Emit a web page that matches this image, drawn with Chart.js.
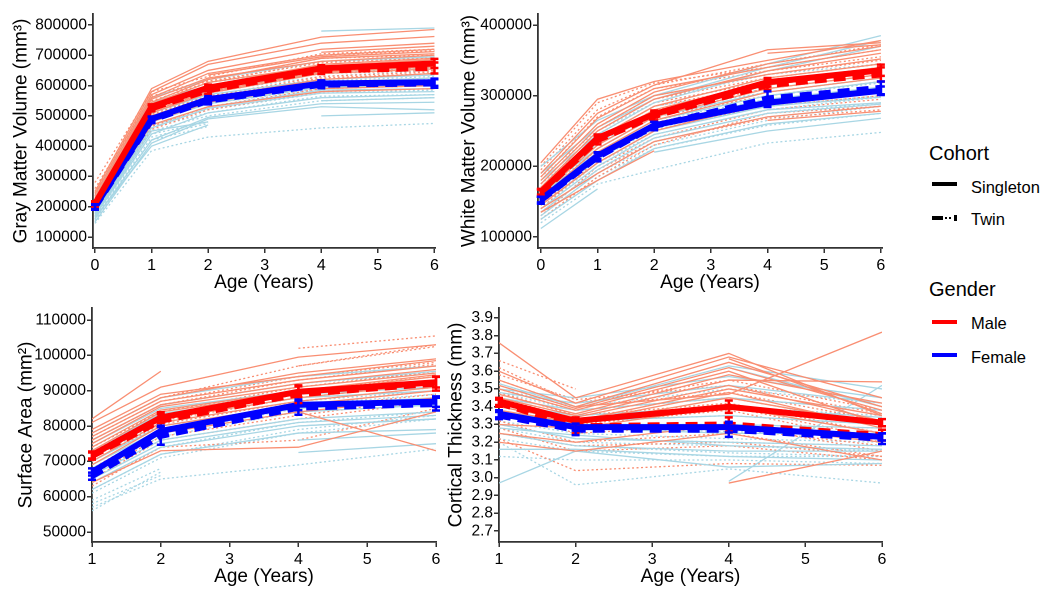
<!DOCTYPE html>
<html><head><meta charset="utf-8">
<script src="https://cdn.jsdelivr.net/npm/chart.js@4/dist/chart.umd.min.js"></script>
<style>
body{margin:0;background:#fff;width:1050px;height:599px;position:relative;overflow:hidden;font-family:"Liberation Sans",Arial,sans-serif}
canvas{position:absolute}
.lg{position:absolute;color:#000;white-space:nowrap;line-height:1.2}
.key{position:absolute;height:4px}
</style></head><body>
<canvas id="c1" width="450" height="295" style="left:0;top:0;width:450px;height:295px"></canvas>
<canvas id="c2" width="460" height="295" style="left:440px;top:0;width:460px;height:295px"></canvas>
<canvas id="c3" width="450" height="304" style="left:0;top:295px;width:450px;height:304px"></canvas>
<canvas id="c4" width="460" height="304" style="left:440px;top:295px;width:460px;height:304px"></canvas>

<div class="lg" style="left:929px;top:141px;font-size:20px">Cohort</div>
<div class="key" style="left:932px;top:182px;width:25px;background:#000"></div>
<div class="lg" style="left:971px;top:178px;font-size:16.5px">Singleton</div>
<div class="key" style="left:932px;top:216px;width:11px;background:#000"></div>
<div class="key" style="left:945px;top:217px;width:2px;height:2px;background:#000"></div>
<div class="key" style="left:949px;top:217px;width:2px;height:2px;background:#000"></div>
<div class="key" style="left:954px;top:215px;width:3px;height:6px;background:#000"></div>
<div class="lg" style="left:971px;top:210px;font-size:16.5px">Twin</div>
<div class="lg" style="left:929px;top:277px;font-size:20px">Gender</div>
<div class="key" style="left:932px;top:320px;width:25px;background:#f00"></div>
<div class="lg" style="left:971px;top:314px;font-size:16.5px">Male</div>
<div class="key" style="left:932px;top:353px;width:25px;background:#00f"></div>
<div class="lg" style="left:971px;top:348px;font-size:16.5px">Female</div>

<script>
// ---------- axes / categories ----------
const agesInfancy = [0, 1, 2, 4, 6];
const agesChildhood = [1, 2, 4, 6];
const xTicksInfancy = [0, 1, 2, 3, 4, 5, 6];
const xTicksChildhood = [1, 2, 3, 4, 5, 6];
const gmTicks = [100000, 200000, 300000, 400000, 500000, 600000, 700000, 800000];
const wmTicks = [100000, 200000, 300000, 400000];
const saTicks = [50000, 60000, 70000, 80000, 90000, 100000, 110000];
const ctTicks = [2.7, 2.8, 2.9, 3.0, 3.1, 3.2, 3.3, 3.4, 3.5, 3.6, 3.7, 3.8, 3.9];

// ---------- Gray matter volume ----------
const gmMaleSingleton = [
 [250000,590000,680000,760000,785000],[240000,580000,670000,740000,762000],[230000,570000,650000,720000,740000],
 [220000,560000,640000,700000,720000],[215000,545000,620000,690000,705000],[210000,535000,600000,670000,690000],
 [200000,520000,590000,650000,670000],[195000,510000,575000,640000,655000],[205000,500000,560000,620000,640000],
 [190000,480000,545000,600000,615000],[null,null,null,590000,600000],[210000,470000,530000,580000,590000],
 [225000,555000,625000,680000,700000],[215000,540000,610000,665000,685000],[205000,525000,595000,655000,675000],
 [200000,515000,580000,645000,662000],[null,null,null,710000,730000],[null,null,635000,695000,712000]];
const gmMaleTwin = [
 [280000,580000,630000,705000,720000],[260000,565000,620000,690000,700000],[245000,550000,610000,680000,690000],
 [235000,535000,600000,660000,680000],[220000,525000,585000,650000,660000],[210000,510000,575000,640000,650000],
 [200000,495000,560000,625000,640000],[195000,480000,545000,610000,625000],[185000,465000,530000,590000,600000],
 [190000,455000,520000,580000,590000],[250000,560000,615000,675000,695000],[230000,540000,595000,655000,670000],
 [215000,520000,580000,645000,665000],[205000,505000,565000,630000,645000],[null,null,null,700000,715000]];
const gmFemaleSingleton = [
 [null,null,null,780000,790000],[240000,560000,620000,680000,695000],[220000,530000,590000,640000,655000],
 [210000,510000,570000,620000,635000],[200000,495000,555000,605000,615000],[190000,480000,540000,595000,600000],
 [180000,460000,525000,575000,580000],[170000,440000,510000,560000,570000],[160000,420000,495000,540000,545000],
 [150000,410000,490000,530000,520000],[null,null,null,500000,510000],[165000,400000,470000,null,null],
 [230000,545000,600000,655000,665000],[205000,500000,560000,610000,625000],[195000,490000,550000,600000,608000],
 [185000,470000,530000,585000,590000],[null,null,null,550000,560000],[175000,450000,480000,null,null]];
const gmFemaleTwin = [
 [235000,540000,610000,660000,680000],[215000,515000,580000,630000,650000],[200000,500000,560000,610000,620000],
 [190000,480000,540000,590000,600000],[175000,460000,510000,565000,570000],[165000,440000,480000,null,null],
 [155000,420000,465000,null,null],[145000,385000,430000,460000,475000],[170000,450000,500000,550000,560000],
 [225000,525000,590000,640000,660000],[205000,505000,565000,615000,630000],[195000,490000,550000,600000,612000],
 [180000,470000,520000,575000,585000],[160000,430000,475000,null,null]];
const gmMeanMaleSingleton = [210000,530000,593000,657000,673000];
const gmMeanMaleTwin = [207000,525000,585000,650000,658000];
const gmMeanFemaleSingleton = [200000,490000,555000,607000,611000];
const gmMeanFemaleTwin = [198000,486000,550000,603000,607000];
const gmSeMaleSingleton = [8000,8000,10000,10000,15000];
const gmSeMaleTwin = [8000,10000,12000,12000,18000];
const gmSeFemaleSingleton = [8000,8000,10000,10000,12000];
const gmSeFemaleTwin = [8000,10000,12000,12000,14000];

// ---------- White matter volume ----------
const wmMaleSingleton = [
 [205000,295000,320000,350000,378000],[190000,275000,315000,365000,375000],[180000,260000,305000,345000,370000],
 [170000,250000,295000,335000,360000],[165000,240000,285000,325000,345000],[160000,230000,275000,315000,335000],
 [150000,220000,265000,305000,325000],[145000,205000,250000,290000,310000],[140000,190000,235000,270000,285000],
 [135000,180000,222000,null,null],[null,null,null,265000,278000],
 [185000,268000,310000,340000,365000],[175000,255000,300000,330000,352000],[162000,235000,280000,320000,340000],
 [155000,225000,270000,310000,330000],[null,null,null,360000,372000]];
const wmMaleTwin = [
 [200000,290000,318000,340000,365000],[185000,270000,310000,335000,355000],[175000,255000,300000,330000,350000],
 [165000,245000,290000,320000,340000],[155000,235000,280000,310000,330000],[150000,225000,270000,300000,320000],
 [140000,210000,255000,285000,300000],[130000,200000,240000,280000,295000],[125000,185000,230000,275000,285000],
 [195000,280000,315000,345000,372000],[170000,250000,295000,325000,345000],[160000,240000,285000,315000,335000],
 [145000,215000,262000,292000,305000],[135000,195000,235000,268000,280000]];
const wmFemaleSingleton = [
 [200000,265000,300000,345000,385000],[180000,245000,290000,335000,370000],[170000,230000,275000,315000,335000],
 [160000,220000,265000,300000,320000],[150000,210000,255000,290000,305000],[140000,200000,245000,280000,290000],
 [130000,190000,235000,270000,285000],[125000,180000,225000,260000,275000],[112000,168000,null,null,null],
 [null,null,220000,250000,268000],
 [190000,255000,295000,340000,378000],[165000,225000,270000,305000,325000],[155000,215000,260000,295000,312000],
 [145000,205000,250000,285000,298000],[135000,195000,240000,275000,288000]];
const wmFemaleTwin = [
 [190000,255000,295000,330000,345000],[175000,240000,285000,310000,330000],[160000,225000,270000,300000,318000],
 [150000,215000,260000,290000,305000],[140000,205000,245000,280000,298000],[130000,190000,230000,265000,285000],
 [120000,175000,195000,233000,248000],[135000,195000,240000,275000,290000],
 [185000,250000,290000,320000,340000],[165000,232000,278000,305000,325000],[155000,220000,265000,295000,310000],
 [145000,210000,252000,285000,300000],[125000,185000,225000,258000,275000]];
const wmMeanMaleSingleton = [164000,240000,274000,319000,336000];
const wmMeanMaleTwin = [162000,237000,271000,315000,330000];
const wmMeanFemaleSingleton = [153000,215000,258000,290000,307000];
const wmMeanFemaleTwin = [152000,213000,257000,296000,311000];
const wmSeMaleSingleton = [4000,5000,5000,6000,8000];
const wmSeMaleTwin = [5000,6000,6000,7000,10000];
const wmSeFemaleSingleton = [4000,5000,5000,6000,6000];
const wmSeFemaleTwin = [5000,6000,6000,10000,9000];

// ---------- Surface area ----------
const saMaleSingleton = [
 [82000,95500,null,null],[81000,91000,99500,103000],[79000,89000,94000,98500],[77000,87000,93000,97000],
 [75000,85500,91000,95000],[73000,84000,89500,94000],[71000,82000,88000,92000],[69000,80000,86000,90000],
 [67000,78000,84000,88000],[null,null,84000,73000],[64000,73000,74000,84000],
 [78000,88000,95000,99000],[76000,86000,92000,96000],[74000,84500,90000,94500],[72000,83000,89000,93000],
 [70000,81000,87000,91000]];
const saMaleTwin = [
 [null,null,102000,105500],[78000,88000,97000,103000],[76000,86000,93000,97500],[74000,84000,91000,95500],
 [72000,82000,89000,93000],[70000,80500,87000,91000],[68000,79000,85000,89000],[65000,76000,82000,87000],
 [63000,74000,76000,85000],[null,null,97000,102500],[77000,87000,94000,98000],[73000,83000,90000,94000],
 [71000,81500,88000,92000],[66000,77000,83000,88000]];
const saFemaleSingleton = [
 [78000,88000,94000,97000],[75000,85000,90000,92000],[72000,82000,88000,90000],[70000,80000,86000,88000],
 [68000,78000,84000,86000],[66000,76000,82000,84000],[64000,74000,80000,82000],[62000,72000,78000,79000],
 [null,null,72500,75000],[null,null,76000,78000],
 [76000,86000,92000,95500],[73000,83500,89000,91000],[69000,79000,85000,87000],[65000,75000,81000,83000],
 [null,null,80000,82000]];
const saFemaleTwin = [
 [76000,86000,92000,95000],[73000,83000,89000,91000],[70000,80000,86000,89000],[67000,77000,84000,86000],
 [64000,74000,81000,84000],[61000,71000,78000,82000],[59000,68000,null,null],[57000,65000,69000,73500],
 [56000,67000,null,null],[74000,84000,90000,93000],[71000,81000,87000,90000],[68000,78000,85000,87000],
 [62000,72000,79000,83000],[58000,66000,null,null]];
const saMeanMaleSingleton = [71800,82400,89700,92400];
const saMeanMaleTwin = [71500,81500,89000,92000];
const saMeanFemaleSingleton = [67000,78600,86000,86900];
const saMeanFemaleTwin = [65800,77200,85200,86200];
const saSeMaleSingleton = [1000,1500,1500,1500];
const saSeMaleTwin = [1000,1800,2500,2000];
const saSeFemaleSingleton = [1000,1500,1500,1500];
const saSeFemaleTwin = [1000,2500,2000,1800];

// ---------- Cortical thickness ----------
const ctMaleSingleton = [
 [3.76,3.45,3.70,3.35],[3.60,3.42,3.68,3.45],[3.55,3.40,3.65,3.40],[3.50,3.38,3.60,3.30],
 [3.45,3.35,3.55,3.54],[3.40,3.32,3.50,3.35],[3.35,3.30,3.45,3.30],[3.30,3.28,3.40,3.25],
 [3.25,3.20,3.30,3.20],[null,null,2.97,3.15],[null,3.40,3.47,3.82],[3.20,3.15,3.25,3.10],
 [3.52,3.39,3.62,3.38],[3.47,3.36,3.58,3.42],[3.42,3.34,3.52,3.32],[3.38,3.31,3.48,3.28],
 [null,null,3.67,3.36]];
const ctMaleTwin = [
 [3.66,3.50,null,null],[3.62,3.42,3.55,3.38],[3.55,3.40,3.48,3.32],[3.48,3.35,3.42,3.25],
 [3.42,3.30,3.38,3.20],[3.38,3.25,3.30,3.15],[3.32,3.20,3.25,3.12],[3.28,3.15,3.18,3.10],
 [3.22,3.04,3.08,3.07],[3.58,3.44,3.52,3.36],[3.50,3.38,3.45,3.30],[3.45,3.33,3.40,3.22],
 [3.35,3.28,3.28,3.18],[3.25,3.18,3.20,3.12]];
const ctFemaleSingleton = [
 [3.53,3.40,3.63,3.50],[3.50,3.45,3.57,3.45],[3.45,3.38,3.45,3.38],[3.40,3.32,3.35,3.30],
 [3.35,3.28,3.25,3.25],[3.30,3.22,3.20,3.18],[3.25,3.18,3.15,3.15],[3.16,3.16,3.12,3.10],
 [2.97,3.15,3.06,3.08],[null,null,2.98,3.52],[3.48,3.42,3.52,3.42],[3.42,3.35,3.40,3.34],
 [3.38,3.30,3.30,3.28],[3.28,3.24,3.18,3.16],[null,null,3.62,3.40]];
const ctFemaleTwin = [
 [3.50,3.40,3.50,3.42],[3.45,3.35,3.40,3.35],[3.38,3.30,3.30,3.28],[3.32,3.25,3.22,3.20],
 [3.28,3.20,3.18,3.15],[3.22,3.15,3.12,3.12],[3.12,3.10,3.10,3.08],[3.20,2.96,3.05,2.97],
 [3.48,3.38,3.45,3.38],[3.40,3.32,3.35,3.30],[3.35,3.28,3.26,3.24],[3.30,3.22,3.20,3.18],
 [3.25,3.18,3.14,3.12]];
const ctMeanMaleSingleton = [3.43,3.32,3.40,3.31];
const ctMeanMaleTwin = [3.42,3.29,3.30,3.24];
const ctMeanFemaleSingleton = [3.36,3.285,3.285,3.23];
const ctMeanFemaleTwin = [3.35,3.27,3.27,3.22];
const ctSeMaleSingleton = [0.02,0.02,0.035,0.02];
const ctSeMaleTwin = [0.02,0.04,0.04,0.03];
const ctSeFemaleSingleton = [0.02,0.02,0.03,0.02];
const ctSeFemaleTwin = [0.02,0.03,0.04,0.03];

// ---------- styles ----------
const MALE_LIGHT = '#F98E72', FEMALE_LIGHT = '#A8D6E4', MALE = '#FF0000', FEMALE = '#0000FF';
const FONT = '"Liberation Sans", Arial, sans-serif';
Chart.defaults.font.family = FONT;

function pts(xs, vals) { return xs.map((x, i) => ({ x: x, y: vals[i] })); }

function subjectSets(xs, list, color, dashed) {
  return list.map(v => ({
    data: pts(xs, v), borderColor: color, borderWidth: 1.3, pointRadius: 0,
    borderDash: dashed ? [2, 2.5] : [], spanGaps: true, order: 10, tension: 0
  }));
}
function meanSet(xs, vals, se, color, dashed) {
  return {
    data: pts(xs, vals), borderColor: color, borderWidth: 6, pointRadius: 0,
    borderDash: dashed ? [12, 7] : [], borderJoinStyle: 'miter', borderCapStyle: 'butt',
    order: dashed ? 1 : 0, tension: 0, errors: se
  };
}

const errorBars = {
  id: 'errorBars',
  afterDatasetsDraw(chart) {
    const ctx = chart.ctx, xs = chart.scales.x, ys = chart.scales.y;
    chart.data.datasets.forEach(ds => {
      if (!ds.errors) return;
      ctx.save();
      ctx.strokeStyle = ds.borderColor; ctx.lineWidth = 2.5; ctx.setLineDash([]);
      ds.data.forEach((p, i) => {
        const e = ds.errors[i];
        const px = xs.getPixelForValue(p.x);
        const y1 = ys.getPixelForValue(p.y - e), y2 = ys.getPixelForValue(p.y + e);
        ctx.beginPath();
        ctx.moveTo(px, y1); ctx.lineTo(px, y2);
        ctx.moveTo(px - 4, y1); ctx.lineTo(px + 4, y1);
        ctx.moveTo(px - 4, y2); ctx.lineTo(px + 4, y2);
        ctx.stroke();
      });
      ctx.restore();
    });
  }
};

function axisCommon() {
  return {
    grid: { display: true, drawOnChartArea: false, drawTicks: true, tickLength: 5, color: '#333', lineWidth: 1.5 },
    border: { display: true, color: '#333', width: 1.8 }
  };
}

function makePanel(cfg) {
  const datasets = [].concat(
    subjectSets(cfg.xs, cfg.ms, MALE_LIGHT, false),
    subjectSets(cfg.xs, cfg.fs, FEMALE_LIGHT, false),
    subjectSets(cfg.xs, cfg.mt, MALE_LIGHT, true),
    subjectSets(cfg.xs, cfg.ft, FEMALE_LIGHT, true),
    [meanSet(cfg.xs, cfg.mMS, cfg.sMS, MALE, false),
     meanSet(cfg.xs, cfg.mMT, cfg.sMT, MALE, true),
     meanSet(cfg.xs, cfg.mFS, cfg.sFS, FEMALE, false),
     meanSet(cfg.xs, cfg.mFT, cfg.sFT, FEMALE, true)]
  );
  new Chart(document.getElementById(cfg.id), {
    type: 'line',
    data: { datasets: datasets },
    plugins: [errorBars],
    options: {
      responsive: false, animation: false, devicePixelRatio: 2,
      layout: { padding: { left: 0, top: cfg.top, right: cfg.right, bottom: 0 } },
      plugins: { legend: { display: false }, tooltip: { enabled: false } },
      scales: {
        x: Object.assign(axisCommon(), {
          type: 'linear', min: cfg.xmin, max: cfg.xmax,
          afterBuildTicks: s => { s.ticks = cfg.xticks.map(v => ({ value: v })); },
          afterFit: s => { s.height = cfg.xh; },
          ticks: { color: '#000', font: { size: 16 }, padding: 3, maxRotation: 0, autoSkip: false },
          title: { display: true, text: 'Age (Years)', color: '#000', font: { size: 19 }, padding: { top: 0, bottom: cfg.xtp } }
        }),
        y: Object.assign(axisCommon(), {
          type: 'linear', min: cfg.ymin, max: cfg.ymax,
          afterBuildTicks: s => { s.ticks = cfg.yticks.map(v => ({ value: v })); },
          afterFit: s => { s.width = cfg.yw; },
          ticks: { color: '#000', font: { size: 15.5 }, padding: 1, autoSkip: false,
                   callback: v => cfg.fmt ? cfg.fmt(v) : String(v) },
          title: { display: true, text: cfg.ytitle, color: '#000', font: { size: 19 }, padding: { top: cfg.ytp, bottom: 0 } }
        })
      }
    }
  });
}

makePanel({ id: 'c1', xs: agesInfancy, xticks: xTicksInfancy, yticks: gmTicks,
  ms: gmMaleSingleton, mt: gmMaleTwin, fs: gmFemaleSingleton, ft: gmFemaleTwin,
  mMS: gmMeanMaleSingleton, mMT: gmMeanMaleTwin, mFS: gmMeanFemaleSingleton, mFT: gmMeanFemaleTwin,
  sMS: gmSeMaleSingleton, sMT: gmSeMaleTwin, sFS: gmSeFemaleSingleton, sFT: gmSeFemaleTwin,
  xmin: -0.035, xmax: 6.01, ymin: 63700, ymax: 836300, top: 14, right: 15, yw: 93, xh: 47,
  xtp: 0.6, ytp: 10, ytitle: 'Gray Matter Volume (mm³)' });

makePanel({ id: 'c2', xs: agesInfancy, xticks: xTicksInfancy, yticks: wmTicks,
  ms: wmMaleSingleton, mt: wmMaleTwin, fs: wmFemaleSingleton, ft: wmFemaleTwin,
  mMS: wmMeanMaleSingleton, mMT: wmMeanMaleTwin, mFS: wmMeanFemaleSingleton, mFT: wmMeanFemaleTwin,
  sMS: wmSeMaleSingleton, sMT: wmSeMaleTwin, sFS: wmSeFemaleSingleton, sFT: wmSeFemaleTwin,
  xmin: -0.05, xmax: 6.02, ymin: 84400, ymax: 415600, top: 14, right: 18, yw: 98, xh: 47,
  xtp: 0.6, ytp: 18, ytitle: 'White Matter Volume (mm³)' });

makePanel({ id: 'c3', xs: agesChildhood, xticks: xTicksChildhood, yticks: saTicks,
  ms: saMaleSingleton, mt: saMaleTwin, fs: saFemaleSingleton, ft: saFemaleTwin,
  mMS: saMeanMaleSingleton, mMT: saMeanMaleTwin, mFS: saMeanFemaleSingleton, mFT: saMeanFemaleTwin,
  sMS: saSeMaleSingleton, sMT: saSeMaleTwin, sFS: saSeFemaleSingleton, sFT: saSeFemaleTwin,
  xmin: 1.0, xmax: 6.0, ymin: 47170, ymax: 113400, top: 13, right: 14, yw: 92, xh: 57,
  xtp: 10.6, ytp: 15, ytitle: 'Surface Area (mm²)' });

makePanel({ id: 'c4', xs: agesChildhood, xticks: xTicksChildhood, yticks: ctTicks,
  ms: ctMaleSingleton, mt: ctMaleTwin, fs: ctFemaleSingleton, ft: ctFemaleTwin,
  mMS: ctMeanMaleSingleton, mMT: ctMeanMaleTwin, mFS: ctMeanFemaleSingleton, mFT: ctMeanFemaleTwin,
  sMS: ctSeMaleSingleton, sMT: ctSeMaleTwin, sFS: ctSeFemaleSingleton, sFT: ctSeFemaleTwin,
  xmin: 1.0, xmax: 6.0, ymin: 2.638, ymax: 3.956, top: 13, right: 18, yw: 59, xh: 57,
  xtp: 10.6, ytp: 5, ytitle: 'Cortical Thickness (mm)', fmt: v => v.toFixed(1) });
</script>
</body></html>
